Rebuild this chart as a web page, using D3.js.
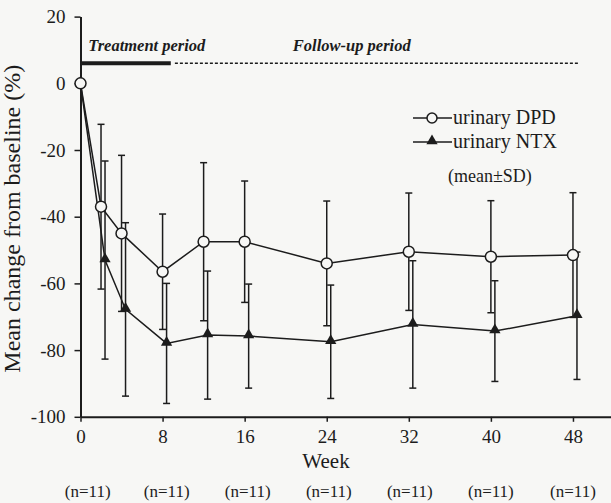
<!DOCTYPE html>
<html>
<head>
<meta charset="utf-8">
<script src="https://cdn.jsdelivr.net/npm/d3@7"></script>
<style>
  body { margin: 0; background: #f7f7f5; }
  svg { display: block; font-family: "Liberation Serif", "Times New Roman", serif; }
</style>
</head>
<body>
<div id="chart"></div>
<script>
// data
const weeks = [0, 2, 4, 8, 12, 16, 24, 32, 40, 48]
const dpdMean = [0, -37, -45, -56.5, -47.5, -47.5, -54, -50.5, -52, -51.5]
const dpdSD = [0, 24.7, 23.4, 17.3, 23.7, 18.2, 18.7, 17.6, 16.8, 18.7]
const ntxMean = [0, -53, -67.8, -78, -75.5, -75.8, -77.5, -72.3, -74.3, -69.7]
const ntxSD = [0, 29.7, 26, 18, 19.2, 15.6, 17, 19.1, 15.1, 19.1]

const xTicks = [0, 8, 16, 24, 32, 40, 48]
const yTicks = [-100, -80, -60, -40, -20, 0, 20]
const nLabels = ["(n=11)", "(n=11)", "(n=11)", "(n=11)", "(n=11)", "(n=11)", "(n=11)"]
const nWeeks = [0.7, 8.4, 16.3, 24.2, 32.1, 40, 48]

// periods: [start week, end week]
const treatment = [0, 8.8]
const followUp = [9.2, 48.5]
const periodLevel = 6

const width = 611, height = 503
const ink = "#1c1c1c"
const paper = "#f7f7f5"

const x = d3.scaleLinear().domain([0, 52]).range([80.5, 614])
const y = d3.scaleLinear().domain([-100, 20]).range([416.8, 16.6])
const dodge = 4 // NTX drawn slightly to the right

const svg = d3.select("#chart").append("svg")
    .attr("width", width)
    .attr("height", height)

const dpd = weeks.map((w, i) => ({week: w, mean: dpdMean[i], sd: dpdSD[i]}))
const ntx = weeks.map((w, i) => ({week: w, mean: ntxMean[i], sd: ntxSD[i]}))

// axes
const yAxis = svg.append("g")
    .attr("transform", `translate(${x(0)},0)`)
    .call(d3.axisLeft(y).tickValues(yTicks).tickFormat(d => String(d))
        .tickSize(6).tickPadding(9).tickSizeOuter(0))

const xAxis = svg.append("g")
    .attr("transform", `translate(0,${y(-100)})`)
    .call(d3.axisBottom(x).tickValues(xTicks).tickFormat(d => String(d))
        .tickSize(5).tickPadding(8).tickSizeOuter(0))

svg.selectAll("g").attr("font-family", null).attr("font-size", null)
svg.selectAll(".tick text").style("font-size", "19px").attr("fill", ink)
svg.selectAll(".domain").attr("stroke", ink).attr("stroke-width", 2)
svg.selectAll(".tick line").attr("stroke", ink).attr("stroke-width", 1.5)

// axis titles
svg.append("text")
    .attr("transform", `translate(20,${(y(20) + y(-100)) / 2 + 2}) rotate(-90)`)
    .attr("text-anchor", "middle")
    .style("font-size", "24px")
    .attr("fill", ink)
    .text("Mean change from baseline (%)")

svg.append("text")
    .attr("x", 326)
    .attr("y", 468)
    .attr("text-anchor", "middle")
    .style("font-size", "21px")
    .attr("fill", ink)
    .text("Week")

svg.selectAll(".nlab")
    .data(nLabels)
    .join("text")
    .attr("class", "nlab")
    .attr("x", (d, i) => x(nWeeks[i]))
    .attr("y", 497)
    .attr("text-anchor", "middle")
    .style("font-size", "17px")
    .attr("fill", ink)
    .text(d => d)

// treatment / follow-up period bars
svg.append("line")
    .attr("x1", x(treatment[0])).attr("x2", x(treatment[1]))
    .attr("y1", y(periodLevel)).attr("y2", y(periodLevel))
    .attr("stroke", ink).attr("stroke-width", 4)

svg.append("line")
    .attr("x1", x(followUp[0])).attr("x2", x(followUp[1]))
    .attr("y1", y(periodLevel)).attr("y2", y(periodLevel))
    .attr("stroke", ink).attr("stroke-width", 1.5)
    .attr("stroke-dasharray", "3,2")

svg.append("text")
    .attr("x", x(0.75)).attr("y", 51)
    .style("font-size", "16.5px").style("font-weight", "bold").style("font-style", "italic")
    .attr("fill", ink)
    .text("Treatment period")

svg.append("text")
    .attr("x", x(20.7)).attr("y", 51)
    .style("font-size", "16.5px").style("font-weight", "bold").style("font-style", "italic")
    .attr("fill", ink)
    .text("Follow-up period")

// error bars
function errorBars(data, off, cls) {
    const g = svg.append("g").attr("class", cls)
        .attr("stroke", ink).attr("stroke-width", 1.5)
    const bars = g.selectAll("g").data(data.filter(d => d.sd > 0)).join("g")
    bars.append("line")
        .attr("x1", d => x(d.week) + off).attr("x2", d => x(d.week) + off)
        .attr("y1", d => y(d.mean + d.sd)).attr("y2", d => y(d.mean - d.sd))
    bars.append("line")
        .attr("x1", d => x(d.week) + off - 3.5).attr("x2", d => x(d.week) + off + 3.5)
        .attr("y1", d => y(d.mean + d.sd)).attr("y2", d => y(d.mean + d.sd))
    bars.append("line")
        .attr("x1", d => x(d.week) + off - 3.5).attr("x2", d => x(d.week) + off + 3.5)
        .attr("y1", d => y(d.mean - d.sd)).attr("y2", d => y(d.mean - d.sd))
}
errorBars(ntx, dodge, "ntx-err")
errorBars(dpd, 0, "dpd-err")

// lines
const lineNtx = d3.line().x(d => x(d.week) + (d.week > 0 ? dodge : 0)).y(d => y(d.mean))
const lineDpd = d3.line().x(d => x(d.week)).y(d => y(d.mean))

svg.append("path").datum(ntx)
    .attr("d", lineNtx).attr("fill", "none").attr("stroke", ink).attr("stroke-width", 1.5)
svg.append("path").datum(dpd)
    .attr("d", lineDpd).attr("fill", "none").attr("stroke", ink).attr("stroke-width", 1.5)

// markers
const tri = d3.symbol().type(d3.symbolTriangle).size(55)
svg.selectAll(".tri")
    .data(ntx)
    .join("path")
    .attr("class", "tri")
    .attr("d", tri)
    .attr("transform", d => `translate(${x(d.week) + (d.week > 0 ? dodge : 0)},${y(d.mean) - 1})`)
    .attr("fill", ink)

svg.selectAll(".circ")
    .data(dpd)
    .join("circle")
    .attr("class", "circ")
    .attr("cx", d => x(d.week))
    .attr("cy", d => y(d.mean))
    .attr("r", 5.5)
    .attr("fill", paper)
    .attr("stroke", ink)
    .attr("stroke-width", 1.5)

// legend
const legend = svg.append("g")
legend.append("line").attr("x1", 413).attr("x2", 452).attr("y1", 118).attr("y2", 118)
    .attr("stroke", ink).attr("stroke-width", 1.5)
legend.append("circle").attr("cx", 432).attr("cy", 118).attr("r", 5)
    .attr("fill", paper).attr("stroke", ink).attr("stroke-width", 1.5)
legend.append("text").attr("x", 453).attr("y", 124)
    .style("font-size", "20px").attr("fill", ink).text("urinary DPD")

legend.append("line").attr("x1", 413).attr("x2", 452).attr("y1", 142).attr("y2", 142)
    .attr("stroke", ink).attr("stroke-width", 1.5)
legend.append("path").attr("d", tri).attr("transform", "translate(432,141)")
    .attr("fill", ink)
legend.append("text").attr("x", 453).attr("y", 148)
    .style("font-size", "20px").attr("fill", ink).text("urinary NTX")

legend.append("text").attr("x", 448).attr("y", 182)
    .style("font-size", "18px").attr("fill", ink).text("(mean\u00B1SD)")
</script>
</body>
</html>
